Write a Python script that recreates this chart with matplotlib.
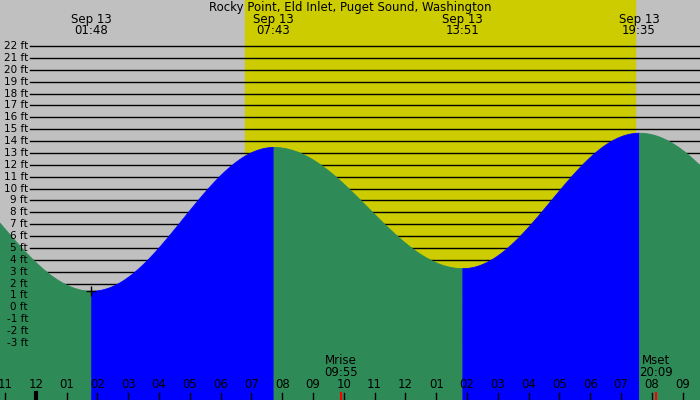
import numpy as np
import matplotlib
matplotlib.use("Agg")
import matplotlib.pyplot as plt

title = "Rocky Point, Eld Inlet, Puget Sound, Washington"
# extremes (hours from midnight Sep 13), heights ft; first/last are off-chart estimates
ext_t = [-4.2, 1.8, 7.717, 13.85, 19.583, 26.0]
ext_h = [13.0, 1.4, 13.5, 3.3, 14.7, 2.0]
ext_labels = ["01:48", "07:43", "13:51", "19:35"]
sun_rise, sun_set = 6.79, 19.45
moon_events = [("Mrise", "09:55", 9.917), ("Mset", "20:09", 20.15)]
hour_labels = ["11","12","01","02","03","04","05","06","07","08","09","10","11","12","01","02","03","04","05","06","07","08","09"]
ft_ticks = list(range(-3, 23))

px = 30.8
t0 = -1 - 5/px
t1 = t0 + 700/px
y_per = 11.88
ytop = 22 + 46/y_per
ybot = -3 - 57/y_per

fig = plt.figure(figsize=(7, 4), dpi=100)
ax = fig.add_axes([0, 0, 1, 1])
ax.set_xlim(t0, t1); ax.set_ylim(ybot, ytop); ax.axis("off")
ax.axvspan(t0, t1, color="#c0c0c0", zorder=0)
ax.axvspan(sun_rise, sun_set, color="#cccc00", zorder=1)
tx0 = t0 + 30/px
for f in ft_ticks:
    ax.plot([tx0, t1], [f, f], color="black", lw=1, zorder=2)
    ax.text(tx0 - 2/px, f, f"{f} ft", ha="right", va="center", fontsize=7.5, zorder=6)

for i in range(len(ext_t)-1):
    a, b = ext_t[i], ext_t[i+1]
    t = np.linspace(a, b, 400)
    f = (t-a)/(b-a)
    h = ext_h[i] + (ext_h[i+1]-ext_h[i])*(1-np.cos(np.pi*f))/2
    col = "#0000ff" if ext_h[i+1] > ext_h[i] else "#2e8b57"
    ax.fill_between(t, ybot, h, color=col, ec=col, lw=0.6, zorder=4)

ax.text((t0+t1)/2, ytop - 7/y_per, title, ha="center", va="center", fontsize=8.5, zorder=6)
for tt, lab in zip(ext_t[1:5], ext_labels):
    ax.text(tt, ytop - 19/y_per, "Sep 13", ha="center", va="center", fontsize=8.5, zorder=6)
    ax.text(tt, ytop - 31/y_per, lab, ha="center", va="center", fontsize=8.5, zorder=6)
ax.plot([ext_t[1]], [ext_h[1]], marker="+", color="black", ms=7, zorder=6)

for i, lab in enumerate(hour_labels):
    hr = -1 + i
    ax.text(hr, ybot + 15/y_per, lab, ha="center", va="center", fontsize=8.5, zorder=6)
    ax.plot([hr, hr], [ybot, ybot + 7/y_per], color="black", lw=3 if hr == 0 else 1, zorder=6)
for nm, tm, tt in moon_events:
    ax.text(tt, ybot + 39/y_per, nm, ha="center", va="center", fontsize=8.5, zorder=6)
    ax.text(tt, ybot + 27/y_per, tm, ha="center", va="center", fontsize=8.5, zorder=6)
    ax.plot([tt, tt], [ybot, ybot + 7/y_per], color="red", lw=1.5, zorder=7)

fig.savefig("out.png", dpi=100)
